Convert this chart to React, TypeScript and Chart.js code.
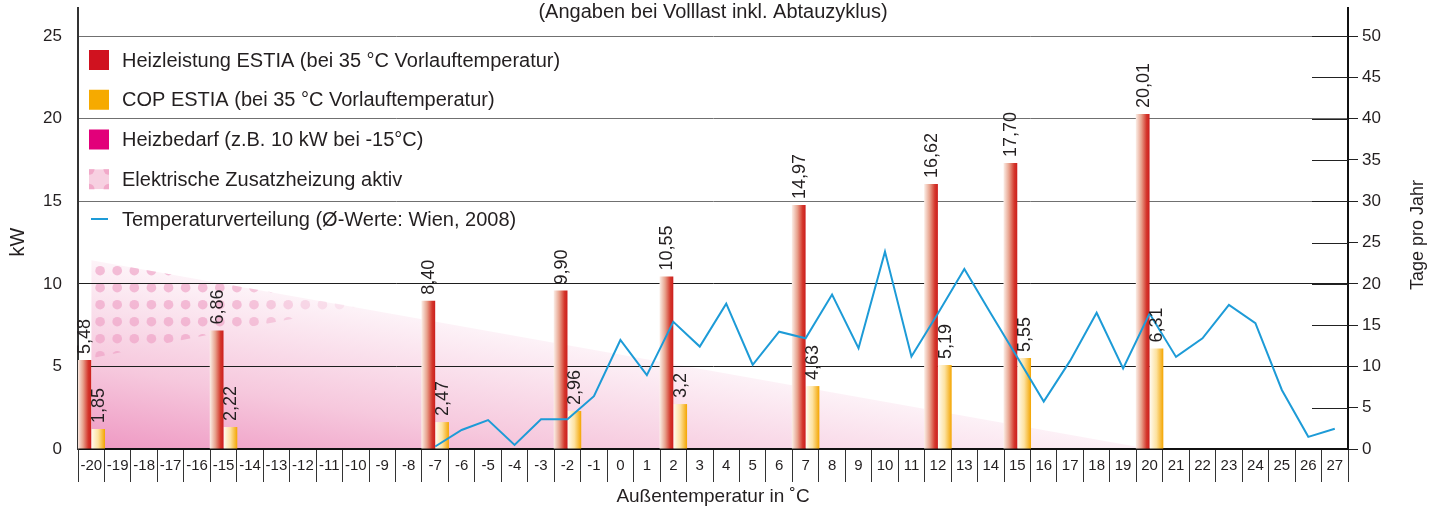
import React, { useEffect, useRef } from "react";
import { Chart, registerables } from "chart.js";

Chart.register(...registerables);

// ---------- data ----------
const temperatureLabels = [
  "-20", "-19", "-18", "-17", "-16", "-15", "-14", "-13", "-12", "-11", "-10", "-9", "-8", "-7", "-6", "-5",
  "-4", "-3", "-2", "-1", "0", "1", "2", "3", "4", "5", "6", "7", "8", "9", "10", "11",
  "12", "13", "14", "15", "16", "17", "18", "19", "20", "21", "22", "23", "24", "25", "26", "27",
];

const heatCategories = ["-20", "-15", "-7", "-2", "2", "7", "12", "15", "20"];
const heatBarValues = [5.39, 7.17, 8.98, 9.59, 10.44, 14.77, 16.04, 17.31, 20.28];
const heatValueLabels = ["5,48", "6,86", "8,40", "9,90", "10,55", "14,97", "16,62", "17,70", "20,01"];

const copBarValues = [1.21, 1.33, 1.63, 2.3, 2.72, 3.81, 5.08, 5.51, 6.09];
const copValueLabels = ["1,85", "2,22", "2,47", "2,96", "3,2", "4,63", "5,19", "5,55", "6,31"];

const daysCategories = [
  "-7", "-6", "-5", "-4", "-3", "-2", "-1", "0", "1", "2", "3", "4", "5", "6", "7", "8", "9", "10",
  "11", "12", "13", "14", "15", "16", "17", "18", "19", "20", "21", "22", "23", "24", "25", "26", "27",
];
const daysPerYear = [
  0.3, 2.3, 3.5, 0.5, 3.6, 3.6, 6.4, 13.2, 8.95, 15.4, 12.4, 17.6, 10.2, 14.2, 13.4, 18.7, 12.2, 23.9,
  11.2, 16.4, 21.8, 16.4, 11.1, 5.75, 10.7, 16.5, 9.75, 16.4, 11.15, 13.4, 17.45, 15.25, 7.15, 1.47, 2.46,
];

const demandCategories = ["-20", "20"];
const demandValues = [11.43, 0];

const auxCategories = ["-20", "-15", "-10"];
const auxUpperValues = [11.43, 10.0, 8.6];
const auxLowerValues = [5.5, 7.1, 8.6];

const kwAxisMax = 26.7;
const daysAxisMax = 53.4;
const tickStep = 5;

const chartTitle = "(Angaben bei Volllast inkl. Abtauzyklus)";
const xAxisTitle = "Außentemperatur in ˚C";
const yAxisTitle = "kW";
const y2AxisTitle = "Tage pro Jahr";

const heatName = "Heizleistung ESTIA (bei 35 °C Vorlauftemperatur)";
const copName = "COP ESTIA (bei 35 °C Vorlauftemperatur)";
const demandName = "Heizbedarf (z.B. 10 kW bei -15°C)";
const auxName = "Elektrische Zusatzheizung aktiv";
const daysName = "Temperaturverteilung (Ø-Werte: Wien, 2008)";

// ---------- styles ----------
const FONT = "'Liberation Sans', Arial, Helvetica, sans-serif";
const TEXT = "#231f20";
const CAT_PCT = 1.04;
const heatStops: [number, string][] = [
  [0, "#fbefe8"],
  [0.4, "#e8a28d"],
  [0.78, "#d4372c"],
  [1, "#cc1d1c"],
];
const copStops: [number, string][] = [
  [0, "#fffbf2"],
  [0.5, "#fde2a0"],
  [1, "#f4a500"],
];
const LINE_BLUE = "#1d9bd7";

function spread(cats: string[], vals: (number | string)[]) {
  const arr: any[] = new Array(temperatureLabels.length).fill(null);
  cats.forEach((c, i) => {
    arr[temperatureLabels.indexOf(c)] = vals[i];
  });
  return arr;
}

function barGradient(ctx: any, which: number) {
  const chart = ctx.chart;
  const xs = chart.scales && chart.scales.x;
  const stops = which === 0 ? heatStops : copStops;
  if (!xs || !chart.chartArea || ctx.dataIndex == null) return stops[stops.length - 1][1];
  const w = (xs.width / temperatureLabels.length) * CAT_PCT / 2;
  const cx = xs.getPixelForValue(ctx.dataIndex);
  const left = which === 0 ? cx - w : cx;
  const g = chart.ctx.createLinearGradient(left, 0, left + w, 0);
  stops.forEach(([o, c]) => g.addColorStop(o, c));
  return g;
}

function makeDotPattern(width: number) {
  const c = document.createElement("canvas");
  c.width = width;
  c.height = 17;
  const g = c.getContext("2d")!;
  const rowY = [15.7, -1.3];
  for (let x = 83; x < width; x += 17.1) {
    const fade = x < 230 ? 1 : Math.max(0, 1 - (x - 230) / 150);
    if (fade <= 0) continue;
    g.fillStyle = `rgba(238, 160, 196, ${0.65 * fade})`;
    rowY.forEach((y) => {
      g.beginPath();
      g.arc(x, y, 4.8, 0, Math.PI * 2);
      g.fill();
    });
  }
  return g.createPattern(c, "repeat");
}

function zeroPadding(s: any) {
  s.paddingTop = 0;
  s.paddingBottom = 0;
  s.paddingLeft = 0;
  s.paddingRight = 0;
}

export default function App() {
  const ref = useRef<HTMLCanvasElement>(null);

  useEffect(() => {
    const canvas = ref.current!;
    const dotPattern = makeDotPattern(1438);

    const heatLabelsSpread = spread(heatCategories, heatValueLabels);
    const copLabelsSpread = spread(heatCategories, copValueLabels);

    const pinkFill = (ctx: any) => {
      const chart = ctx.chart;
      const a = chart.chartArea;
      if (!a) return "#f6cbe0";
      const g = chart.ctx.createLinearGradient(a.left, a.bottom, a.left + 32, a.bottom - 185);
      g.addColorStop(0, "#ee97c2");
      g.addColorStop(0.45, "#f6c8dd");
      g.addColorStop(1, "#fdf3f8");
      return g;
    };

    const valueLabelsPlugin = {
      id: "valueLabels",
      afterDatasetsDraw(chart: any) {
        const ctx = chart.ctx;
        ctx.save();
        ctx.font = `18px ${FONT}`;
        ctx.fillStyle = TEXT;
        ctx.textAlign = "left";
        ctx.textBaseline = "middle";
        [
          [0, heatLabelsSpread],
          [1, copLabelsSpread],
        ].forEach(([di, labels]: any) => {
          const meta = chart.getDatasetMeta(di);
          meta.data.forEach((el: any, i: number) => {
            const txt = labels[i];
            if (txt == null) return;
            ctx.save();
            ctx.translate(el.x + 1, el.y - 6);
            ctx.rotate(-Math.PI / 2);
            ctx.fillText(txt, 0, 0);
            ctx.restore();
          });
        });
        ctx.restore();
      },
    };

    const decorPlugin = {
      id: "decor",
      afterDraw(chart: any) {
        const ctx = chart.ctx;
        const a = chart.chartArea;
        const ys2 = chart.scales.y2;
        // inner tick marks of the right axis
        ctx.save();
        ctx.strokeStyle = "#222";
        ctx.lineWidth = 1;
        ys2.ticks.forEach((t: any) => {
          if (t.value === 0) return;
          const y = Math.round(ys2.getPixelForValue(t.value)) + 0.5;
          ctx.beginPath();
          ctx.moveTo(a.right - 36, y);
          ctx.lineTo(a.right, y);
          ctx.stroke();
        });
        ctx.restore();

        // title inside plot
        ctx.save();
        ctx.fillStyle = TEXT;
        ctx.font = `20px ${FONT}`;
        ctx.textAlign = "center";
        ctx.textBaseline = "middle";
        ctx.fillText(chartTitle, (a.left + a.right) / 2, 12);
        // y titles
        ctx.save();
        ctx.translate(18, 242);
        ctx.rotate(-Math.PI / 2);
        ctx.fillText(yAxisTitle, 0, 0);
        ctx.restore();
        ctx.save();
        ctx.font = `18px ${FONT}`;
        ctx.translate(1418, 235);
        ctx.rotate(-Math.PI / 2);
        ctx.fillText(y2AxisTitle, 0, 0);
        ctx.restore();
        ctx.restore();

        // legend
        const ds = chart.data.datasets;
        const entries = [
          { label: ds[0].label, kind: "box", color: "#d0121f" },
          { label: ds[1].label, kind: "box", color: "#f6aa00" },
          { label: ds[5].label, kind: "box", color: "#e2007a" },
          { label: ds[3].label, kind: "dots", color: "#f7d0e1" },
          { label: ds[2].label, kind: "line", color: LINE_BLUE },
        ];
        ctx.save();
        ctx.font = `20px ${FONT}`;
        ctx.textAlign = "left";
        ctx.textBaseline = "middle";
        entries.forEach((e, i) => {
          const cy = 60 + 39.75 * i;
          const bx = 89;
          const by = cy - 10;
          if (e.kind === "box") {
            ctx.fillStyle = e.color;
            ctx.fillRect(bx, by, 20, 20);
          } else if (e.kind === "dots") {
            ctx.save();
            ctx.beginPath();
            ctx.rect(bx, by, 20, 20);
            ctx.clip();
            ctx.fillStyle = e.color;
            ctx.fillRect(bx, by, 20, 20);
            ctx.fillStyle = "#f1a9c9";
            [
              [bx, by],
              [bx + 20, by],
              [bx, by + 20],
              [bx + 20, by + 20],
            ].forEach(([x, y]) => {
              ctx.beginPath();
              ctx.arc(x, y, 5.5, 0, Math.PI * 2);
              ctx.fill();
            });
            ctx.restore();
          } else {
            ctx.strokeStyle = e.color;
            ctx.lineWidth = 2;
            ctx.beginPath();
            ctx.moveTo(91, cy);
            ctx.lineTo(108, cy);
            ctx.stroke();
          }
          ctx.fillStyle = TEXT;
          ctx.fillText(e.label, 122, cy + 1);
        });
        ctx.restore();
      },
    };

    const chart = new Chart(canvas, {
      data: {
        labels: temperatureLabels,
        datasets: [
          {
            type: "bar",
            label: heatName,
            data: spread(heatCategories, heatBarValues),
            backgroundColor: (c: any) => barGradient(c, 0),
            borderWidth: 0,
            categoryPercentage: CAT_PCT,
            barPercentage: 1,
            yAxisID: "y",
          },
          {
            type: "bar",
            label: copName,
            data: spread(heatCategories, copBarValues),
            backgroundColor: (c: any) => barGradient(c, 1),
            borderWidth: 0,
            categoryPercentage: CAT_PCT,
            barPercentage: 1,
            yAxisID: "y",
          },
          {
            type: "line",
            label: daysName,
            data: spread(daysCategories, daysPerYear),
            borderColor: LINE_BLUE,
            borderWidth: 2,
            pointRadius: 0,
            tension: 0,
            fill: false,
            yAxisID: "y2",
            order: -1,
          },
          {
            type: "line",
            label: auxName,
            data: spread(auxCategories, auxUpperValues),
            borderColor: "rgba(0,0,0,0)",
            borderWidth: 0,
            pointRadius: 0,
            spanGaps: true,
            fill: "+1",
            backgroundColor: dotPattern as any,
            yAxisID: "y",
          },
          {
            type: "line",
            label: "Heizleistung (Grenze)",
            data: spread(auxCategories, auxLowerValues),
            borderColor: "rgba(0,0,0,0)",
            borderWidth: 0,
            pointRadius: 0,
            spanGaps: true,
            fill: false,
            yAxisID: "y",
          },
          {
            type: "line",
            label: demandName,
            data: spread(demandCategories, demandValues),
            borderColor: "rgba(0,0,0,0)",
            borderWidth: 0,
            pointRadius: 0,
            spanGaps: true,
            fill: "origin",
            backgroundColor: pinkFill,
            yAxisID: "y",
          },
        ] as any,
      },
      options: {
        responsive: false,
        animation: false,
        events: [],
        layout: { padding: { top: 8, left: 0, right: 0, bottom: 0 } },
        plugins: {
          legend: { display: false },
          tooltip: { enabled: false },
          title: { display: false },
          filler: { drawTime: "beforeDraw" } as any,
        },
        scales: {
          x: {
            type: "category",
            offset: true,
            grid: {
              offset: true,
              drawOnChartArea: false,
              drawTicks: true,
              tickLength: 33,
              color: "#333",
              lineWidth: 1,
            },
            border: { display: true, color: "#111", width: 2 },
            ticks: {
              autoSkip: false,
              maxRotation: 0,
              minRotation: 0,
              padding: -25,
              color: TEXT,
              font: { family: FONT, size: 15 },
            },
            title: {
              display: true,
              text: xAxisTitle,
              color: TEXT,
              font: { family: FONT, size: 19 },
              padding: { top: 0, bottom: 0 },
            },
            afterFit: (s: any) => {
              s.height = 59;
              zeroPadding(s);
            },
          },
          y: {
            position: "left",
            min: 0,
            max: kwAxisMax,
            ticks: {
              stepSize: tickStep,
              includeBounds: false,
              padding: 16,
              color: TEXT,
              font: { family: FONT, size: 17 },
            },
            grid: {
              drawTicks: false,
              lineWidth: 1,
              color: (c: any) => (c.tick && c.tick.value >= 15 ? "#707070" : "#1e1e1e"),
            },
            border: { display: true, color: "#333", width: 2 },
            afterFit: (s: any) => {
              s.width = 78;
              zeroPadding(s);
            },
          },
          y2: {
            position: "right",
            min: 0,
            max: daysAxisMax,
            ticks: {
              stepSize: tickStep,
              includeBounds: false,
              padding: 4,
              color: TEXT,
              font: { family: FONT, size: 17 },
            },
            grid: {
              drawOnChartArea: false,
              drawTicks: true,
              tickLength: 10,
              color: "#222",
              lineWidth: 1,
            },
            border: { display: true, color: "#111", width: 2 },
            afterFit: (s: any) => {
              s.width = 90;
              zeroPadding(s);
            },
          },
        } as any,
      },
      plugins: [valueLabelsPlugin, decorPlugin],
    } as any);

    return () => {
      chart.destroy();
    };
  }, []);

  return (
    <div style={{ position: "absolute", left: 0, top: 0, width: 1438, height: 508, background: "#fff" }}>
      <canvas ref={ref} width={1438} height={508} style={{ display: "block", width: 1438, height: 508 }} />
    </div>
  );
}
